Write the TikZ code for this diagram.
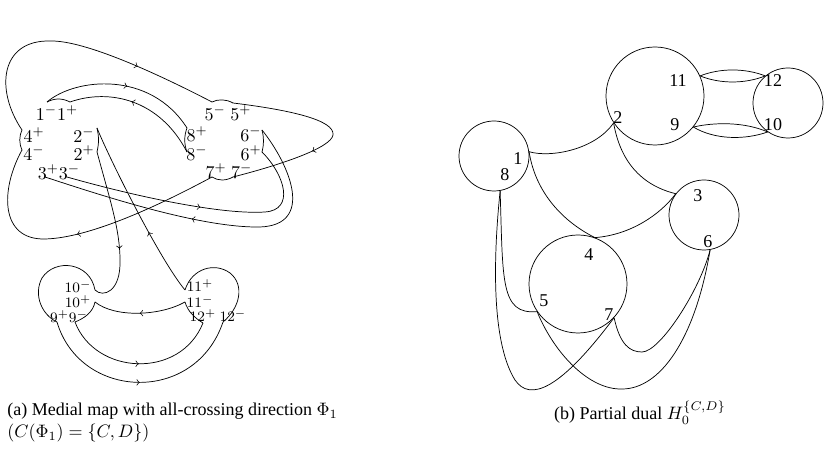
\documentclass[tikz,border=0pt]{standalone}
\usepackage[no-math]{fontspec}
\setmainfont{Liberation Serif}
\usetikzlibrary{decorations.markings}

\begin{document}
\begin{tikzpicture}[x=0.0195cm, y=-0.0195cm,
    midarrow/.style={postaction={decorate}, decoration={markings, mark=at position #1 with {\arrow{>}}}},
    midarrow/.default=0.5,
    sign/.style={inner sep=0pt},
    smallsign/.style={inner sep=0pt, font=\footnotesize},
    disc/.style={draw, circle, inner sep=0pt},
    num/.style={inner sep=0pt}
]
    \useasboundingbox (0,0) rectangle (830,457);

    % Medial map: vertex labels
    \node[sign] (l1) at (57,113) {$1^-1^+$};
    \node[sign] (l4p) at (34,135) {$4^+$};
    \node[sign] (l4m) at (34,153) {$4^-$};
    \node[sign] (l2m) at (84,135) {$2^-$};
    \node[sign] (l2p) at (84,153) {$2^+$};
    \node[sign] (l3) at (59,172) {$3^+3^-$};
    \node[sign] (l5) at (228,113) {$5^-\ 5^+$};
    \node[sign] (l8p) at (197,134) {$8^+$};
    \node[sign] (l8m) at (197,153) {$8^-$};
    \node[sign] (l6m) at (251,134) {$6^-$};
    \node[sign] (l6p) at (251,153) {$6^+$};
    \node[sign] (l7) at (229,171) {$7^+\ 7^-$};
    \node[smallsign] (l10m) at (78,287) {$10^-$};
    \node[smallsign] (l10p) at (78,302) {$10^+$};
    \node[smallsign] (l9) at (69,317) {$9^+9^-$};
    \node[smallsign] (l11p) at (200,286) {$11^+$};
    \node[smallsign] (l11m) at (200,302) {$11^-$};
    \node[smallsign] (l12) at (218,316) {$12^+\ 12^-$};

    % Medial map: half-edge ends
    \coordinate (p1m) at (47,102);
    \coordinate (p1p) at (70,102);
    \coordinate (p4p) at (22,130);
    \coordinate (p4m) at (22,150);
    \coordinate (p2m) at (97,128);
    \coordinate (p2p) at (97,152);
    \coordinate (p3p) at (45,177);
    \coordinate (p3m) at (67,177);
    \coordinate (p5m) at (212,102);
    \coordinate (p5p) at (233,103);
    \coordinate (p8p) at (187,128);
    \coordinate (p8m) at (187,152);
    \coordinate (p6m) at (262,130);
    \coordinate (p6p) at (262,152);
    \coordinate (p7p) at (212,177);
    \coordinate (p7m) at (233,177);
    \coordinate (p10m) at (95,290);
    \coordinate (p10p) at (95,302);
    \coordinate (p9p) at (57,322);
    \coordinate (p9m) at (75,322);
    \coordinate (p11p) at (185,290);
    \coordinate (p11m) at (185,302);
    \coordinate (p12p) at (203,323);
    \coordinate (p12m) at (223,322);

    % outer loop 4 - 5 - 7
    \draw[midarrow=0.72] (p4p) .. controls (-5,90) and (0,40) .. (50,41) .. controls (85,40) and (160,75) .. (p5m);
    \draw (p5m) .. controls (218,99) and (226,99) .. (p5p);
    \draw[midarrow=0.62] (p5p) .. controls (290,110) and (335,120) .. (333,135) .. controls (331,148) and (280,165) .. (p7m);
    \draw (p7m) .. controls (226,181) and (218,181) .. (p7p);
    \draw[midarrow] (p7p) .. controls (160,205) and (90,238) .. (45,239) .. controls (0,240) and (0,190) .. (p4m);
    \draw (p4m) .. controls (19,143) and (19,137) .. (p4p);

    % loop 1 - 8
    \draw[midarrow=0.53] (p1m) .. controls (75,78) and (150,70) .. (p8p);
    \draw (p8p) .. controls (184,136) and (184,144) .. (p8m);
    \draw[midarrow=0.55] (p8m) .. controls (160,100) and (110,88) .. (p1p);
    \draw (p1p) .. controls (62,98) and (55,98) .. (p1m);

    % loop 3 - 6
    \draw[midarrow=0.49] (p3m) .. controls (130,195) and (220,215) .. (265,212) .. controls (295,210) and (285,175) .. (p6p);
    \draw (p6p) .. controls (264,144) and (264,138) .. (p6m);
    \draw[midarrow=0.56] (p6m) .. controls (290,165) and (315,225) .. (260,227) .. controls (200,228) and (100,195) .. (p3p);

    % loop 2 - 10 - 9 - 12 - 11
    \draw[midarrow=0.37] (p11p) .. controls (160,260) and (110,160) .. (p2m);
    \draw (p2m) .. controls (99,137) and (99,143) .. (p2p);
    \draw[midarrow=0.62] (p2p) .. controls (110,200) and (120,230) .. (120,260) .. controls (121,292) and (103,298) .. (p10m);
    \draw (p10m) .. controls (90,262) and (55,258) .. (42,278) .. controls (33,295) and (42,315) .. (p9p);
    \draw[midarrow] (p9p) .. controls (80,400) and (195,405) .. (p12m);
    \draw (p12m) .. controls (240,308) and (245,285) .. (230,273) .. controls (215,262) and (192,268) .. (p11p);

    % loop 10 - 9 - 12 - 11
    \draw[midarrow] (p11m) .. controls (160,316) and (115,318) .. (p10p);
    \draw (p10p) .. controls (93,312) and (85,318) .. (p9m);
    \draw[midarrow] (p9m) .. controls (95,375) and (180,380) .. (p12p);
    \draw (p12p) .. controls (195,318) and (188,312) .. (p11m);

    \node[anchor=north west, align=left, inner sep=0pt] (capa) at (7,403) {(a) Medial map with all-crossing direction $\Phi_1$\\$(C(\Phi_1)=\{C,D\})$};

    % Partial dual: vertex discs
    \node[disc, minimum size=1.911cm] (d2911) at (655,96) {};
    \node[disc, minimum size=1.365cm] (d1210) at (788,103) {};
    \node[disc, minimum size=1.365cm] (d18) at (494,156) {};
    \node[disc, minimum size=1.365cm] (d36) at (704,215) {};
    \node[disc, minimum size=1.911cm] (d457) at (578,284) {};

    \node[num] (n11) at (678,81) {11};
    \node[num] (n9) at (675,125) {9};
    \node[num] (n2) at (618,118) {2};
    \node[num] (n12) at (773,81) {12};
    \node[num] (n10) at (773,125) {10};
    \node[num] (n1) at (518,159) {1};
    \node[num] (n8) at (505,175) {8};
    \node[num] (n3) at (698,196) {3};
    \node[num] (n6) at (708,242) {6};
    \node[num] (n4) at (589,255) {4};
    \node[num] (n5) at (544,301) {5};
    \node[num] (n7) at (609,315) {7};

    % edges
    \draw (d2911.24) .. controls (720,68) and (745,68) .. (d1210.130);
    \draw (d2911.24) .. controls (720,84) and (745,84) .. (d1210.130);
    \draw (d2911.321) .. controls (715,122) and (745,122) .. (d1210.235);
    \draw (d2911.321) .. controls (715,140) and (745,140) .. (d1210.235);
    \draw (d18.7) .. controls (550,158) and (595,150) .. (d2911.213);
    \draw (d2911.213) .. controls (620,160) and (640,185) .. (d36.143);
    \draw (d18.7) .. controls (535,190) and (560,220) .. (d457.70);
    \draw (d36.143) .. controls (660,215) and (630,235) .. (d457.70);
    \draw (d18.280) .. controls (494,250) and (490,340) .. (515,380) .. controls (530,402) and (560,390) .. (d457.317);
    \draw (d18.280) .. controls (503,280) and (500,315) .. (d457.214);
    \draw (d457.214) .. controls (555,355) and (590,390) .. (622,389) .. controls (660,389) and (695,340) .. (d36.280);
    \draw (d457.317) .. controls (620,345) and (630,352) .. (642,352) .. controls (660,352) and (700,290) .. (d36.280);

    \node[anchor=base, inner sep=0pt] (capb) at (640,420) {(b) Partial dual $H_0^{\{C,D\}}$};
\end{tikzpicture}
\end{document}
